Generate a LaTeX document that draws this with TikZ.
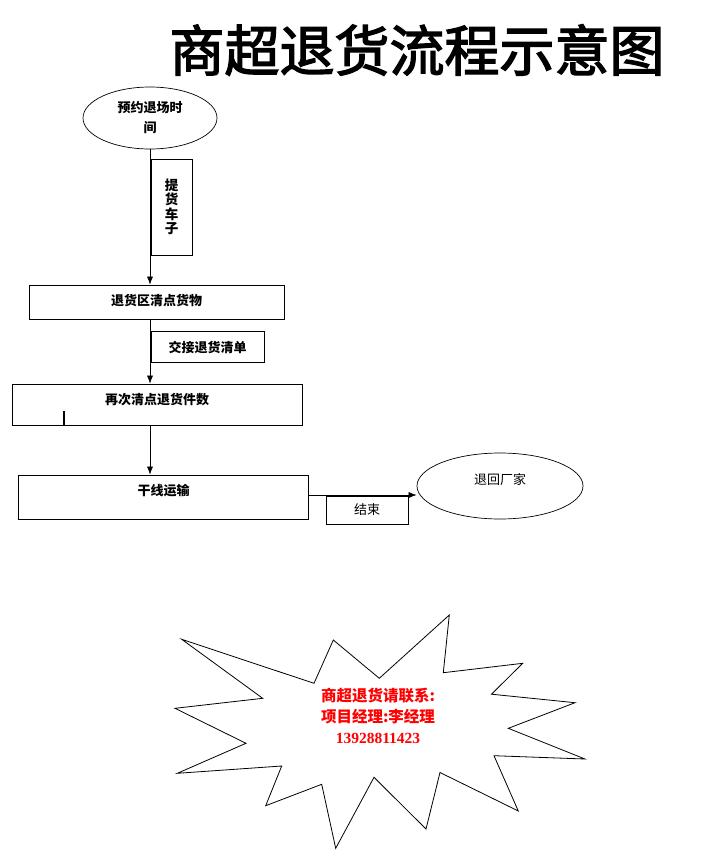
\documentclass[tikz,border=0pt]{standalone}
\usepackage{fontspec}
\setmainfont{Liberation Serif}
\newfontfamily\cjk{Noto Sans CJK SC}
\newfontfamily\cjktitle[FakeBold=2.5]{Noto Sans CJK SC}
\usetikzlibrary{shapes.geometric,arrows.meta}
\tikzset{
  flowbox/.style={draw, line width=0.7pt, inner sep=0pt, font=\cjk\bfseries\fontsize{13}{15}\selectfont, text height=10pt, text depth=10pt},
  labbox/.style={draw, line width=0.7pt, inner sep=0pt, font=\cjk\bfseries\fontsize{13}{15}\selectfont},
  oval/.style={draw, ellipse, line width=0.7pt, inner sep=0pt},
  arr/.style={draw, line width=0.6pt, -{Latex[length=8pt,width=6pt]}},
}
\begin{document}
\begin{tikzpicture}[x=1pt,y=-1pt]
\useasboundingbox (0,0) rectangle (704,860);
% title
\node[font=\cjktitle\fontsize{55}{60}\selectfont] (title) at (417,50) {商超退货流程示意图};
% nodes
\node[oval, minimum width=134pt, minimum height=62pt, align=center, font=\cjk\bfseries\fontsize{13}{20}\selectfont] (e1) at (150,118) {预约退场时\\间};
\node[flowbox, minimum width=255pt, minimum height=34pt, text height=10pt, text depth=4pt] (b1) at (156.5,302) {退货区清点货物};
\node[flowbox, minimum width=290pt, minimum height=41pt] (b2) at (157,404.5) {再次清点退货件数};
\node[flowbox, minimum width=290pt, minimum height=44pt, text height=10pt, text depth=14pt] (b3) at (163.5,497) {干线运输};
\node[oval, minimum width=166pt, minimum height=66pt, font=\cjk\fontsize{13}{15}\selectfont, text height=10pt, text depth=14pt] (e2) at (500,486) {退回厂家};
% labels
\node[labbox, minimum width=41pt, minimum height=96pt, align=center, font=\cjk\bfseries\fontsize{13.5}{14.5}\selectfont] (l1) at (171.5,207) {提\\货\\车\\子};
\node[labbox, minimum width=113pt, minimum height=31pt] (l2) at (207.5,347) {交接退货清单};
\node[labbox, minimum width=82pt, minimum height=28pt, font=\cjk\fontsize{13}{15}\selectfont] (l3) at (367,510) {结束};
% connectors
\draw[arr] (e1.south) -- (e1.south |- b1.north);
\draw[arr] (e1.south |- b1.south) -- (e1.south |- b2.north);
\draw[arr] (e1.south |- b2.south) -- (e1.south |- b3.north);
\coordinate (c3) at ([yshift=2pt]b3.east);
\draw[arr] (c3) -- (c3 -| e2.west);
% cursor mark
\draw[line width=1.5pt] (64,411) -- (64,425);
% star
\draw[line width=0.8pt, line join=miter] (181.7,639.3) -- (314,683.3) -- (333.3,640) -- (379.3,678.3) -- (449.3,615) -- (443.3,672.7) -- (522.7,663.3) -- (491.5,694.2) -- (575,702.7) -- (508.3,728.3) -- (585,759) -- (494,755.7) -- (518.3,811) -- (440,772.5) -- (426,829) -- (374,777.3) -- (335.7,848.3) -- (321.7,784.3) -- (265.7,805.7) -- (281.7,766) -- (177.3,773.3) -- (246,743.3) -- (175,708.3) -- (262.7,698.3) -- cycle;
\node[align=center, text=red, font=\bfseries\fontsize{15.5}{21}\selectfont] (contact) at (378,716) {\cjk 商超退货请联系:\\\cjk 项目经理:李经理\\13928811423};
\end{tikzpicture}
\end{document}
